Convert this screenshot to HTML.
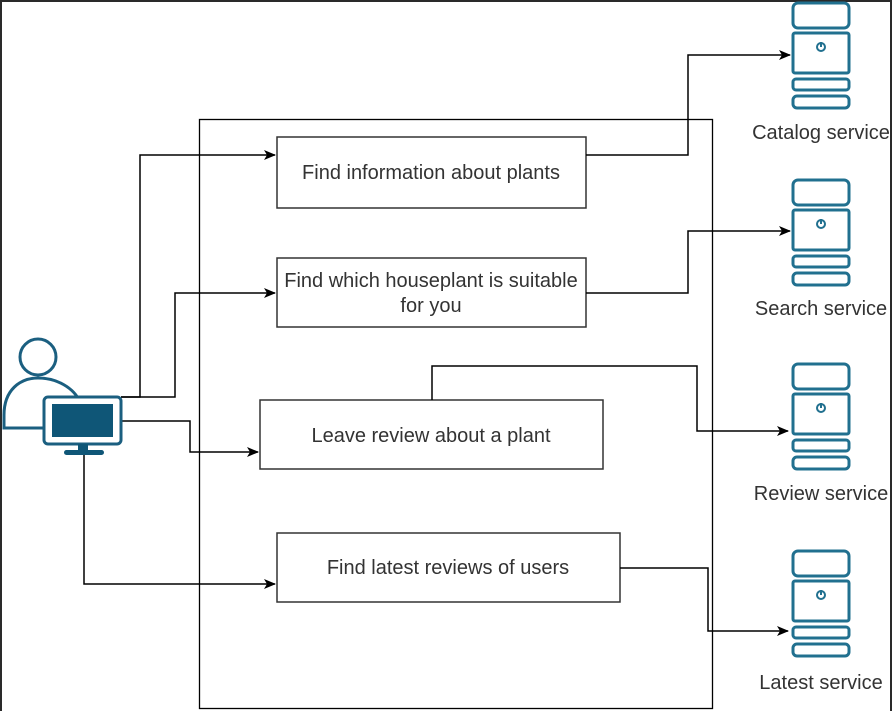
<!DOCTYPE html>
<html><head><meta charset="utf-8"><style>
html,body{margin:0;padding:0;background:#fff;}
svg{display:block;}
text{font-family:"Liberation Sans",Arial,sans-serif;font-size:20px;fill:#333;}
</style></head><body>
<svg width="894" height="711" viewBox="0 0 894 711" xmlns="http://www.w3.org/2000/svg">
<defs>
<marker id="a" markerWidth="12" markerHeight="10" refX="11" refY="5" orient="auto" markerUnits="userSpaceOnUse">
<path d="M0,0 L12,5 L0,10 L3,5 Z" fill="#000"/>
</marker>
<g id="srv" fill="none" stroke="#21708f" stroke-width="3">
<rect x="0" y="0" width="56" height="25" rx="5"/>
<rect x="0" y="30" width="56" height="40" rx="2"/>
<rect x="0" y="76" width="56" height="11" rx="3"/>
<rect x="0" y="93" width="56" height="12" rx="4"/>
<circle cx="28" cy="44" r="4" stroke-width="2"/>
<line x1="28" y1="39" x2="28" y2="44" stroke-width="2"/>
</g>
</defs>
<rect x="0" y="0" width="894" height="711" fill="#fff"/>
<rect x="1" y="1" width="890" height="720" fill="none" stroke="#2a2a2a" stroke-width="2"/>
<rect x="199.5" y="119.5" width="513" height="589" fill="none" stroke="#000" stroke-width="1.3"/>

<g fill="#fff" stroke="#333" stroke-width="1.5">
<rect x="277" y="137" width="309" height="71"/>
<rect x="277" y="258" width="309" height="69"/>
<rect x="260" y="400" width="343" height="69"/>
<rect x="277" y="533" width="343" height="69"/>
</g>
<text x="431" y="179" text-anchor="middle">Find information about plants</text>
<text x="431" y="287" text-anchor="middle">Find which houseplant is suitable</text>
<text x="431" y="312" text-anchor="middle">for you</text>
<text x="431" y="442" text-anchor="middle">Leave review about a plant</text>
<text x="448" y="574" text-anchor="middle">Find latest reviews of users</text>

<g fill="none" stroke="#000" stroke-width="1.5">
<polyline points="121,397 140,397 140,155 275,155" marker-end="url(#a)"/>
<polyline points="121,397 175,397 175,293 275,293" marker-end="url(#a)"/>
<polyline points="121,421 190,421 190,452 258,452" marker-end="url(#a)"/>
<polyline points="84,455 84,584 275,584" marker-end="url(#a)"/>
<polyline points="586,155 688,155 688,55 790,55" marker-end="url(#a)"/>
<polyline points="586,293 688,293 688,231 790,231" marker-end="url(#a)"/>
<polyline points="432,400 432,366 697,366 697,431 788,431" marker-end="url(#a)"/>
<polyline points="620,568 708,568 708,631 788,631" marker-end="url(#a)"/>
</g>

<use href="#srv" x="793" y="3"/>
<use href="#srv" x="793" y="180"/>
<use href="#srv" x="793" y="364"/>
<use href="#srv" x="793" y="551"/>
<text x="821" y="139" text-anchor="middle">Catalog service</text>
<text x="821" y="315" text-anchor="middle">Search service</text>
<text x="821" y="500" text-anchor="middle">Review service</text>
<text x="821" y="689" text-anchor="middle">Latest service</text>

<g fill="#fff" stroke="#1b5f80" stroke-width="3">
<circle cx="38" cy="357" r="18"/>
<path d="M4,428 L4,415 C4,390 20,378 38,378 C57,378 74,388 80,402 L80,428 Z"/>
<rect x="44" y="397" width="77" height="47" rx="4"/>
</g>
<rect x="52" y="404" width="61" height="33" fill="#0f5677"/>
<rect x="78" y="444" width="10" height="7" fill="#0f5677"/>
<rect x="64" y="450" width="40" height="5" rx="2.5" fill="#0f5677"/>
</svg>
</body></html>
